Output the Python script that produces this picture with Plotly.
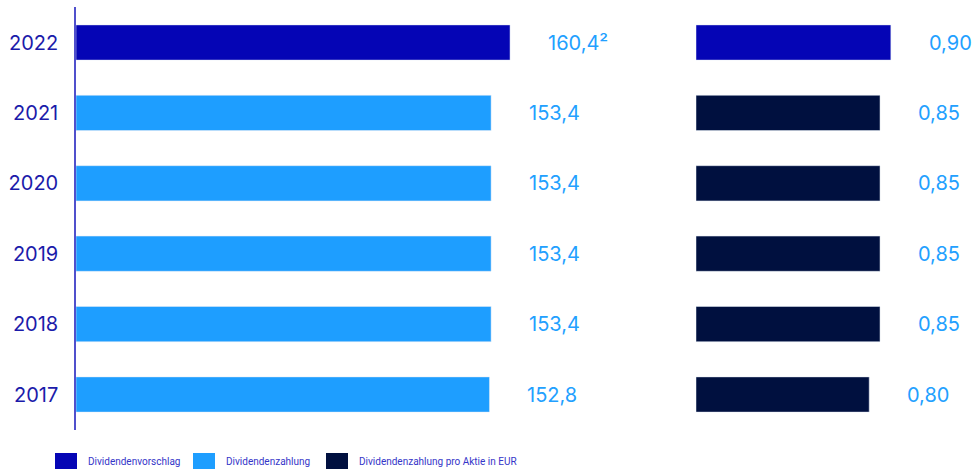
import plotly.graph_objects as go

# Dividend data (total payout in EUR million, payout per share in EUR)
years_paid = ["2017", "2018", "2019", "2020", "2021"]
payout_total = [152.8, 153.4, 153.4, 153.4, 153.4]
payout_share = [0.80, 0.85, 0.85, 0.85, 0.85]

year_proposed = ["2022"]
proposed_total = [160.4]
proposed_share = [0.90]

legend_labels = ["Dividendenvorschlag", "Dividendenzahlung", "Dividendenzahlung pro Aktie in EUR"]

C_PROPOSED = "#0505B5"
C_PAID = "#1E9EFF"
C_SHARE = "#00103F"
C_LABEL = "#22A0FF"
C_AXIS = "#1B1BAA"
C_LEGEND = "#3535C8"

W, H = 975, 469
FONT = "Inter"

cats = years_paid + year_proposed


def px_x(p):
    return p / W


def px_y(p):
    return 1 - p / H


def de(v, digits):
    return f"{v:.{digits}f}".replace(".", ",")


fig = go.Figure()

# left panel: total payout
fig.add_bar(y=years_paid, x=payout_total, orientation="h", marker_color=C_PAID,
            width=0.5, xaxis="x", yaxis="y", showlegend=False, hoverinfo="skip")
fig.add_bar(y=year_proposed, x=proposed_total, orientation="h", marker_color=C_PROPOSED,
            width=0.5, xaxis="x", yaxis="y", showlegend=False, hoverinfo="skip")
# right panel: per share
fig.add_bar(y=years_paid, x=payout_share, orientation="h", marker_color=C_SHARE,
            width=0.5, xaxis="x2", yaxis="y2", showlegend=False, hoverinfo="skip")
fig.add_bar(y=year_proposed, x=proposed_share, orientation="h", marker_color=C_PROPOSED,
            width=0.5, xaxis="x2", yaxis="y2", showlegend=False, hoverinfo="skip")

# value labels, placed by category index on the y axes
annotations = []
for y, v in zip(years_paid, payout_total):
    annotations.append(dict(x=v, y=cats.index(y), xref="x", yref="y", text=de(v, 1)))
for y, v in zip(year_proposed, proposed_total):
    annotations.append(dict(x=v, y=cats.index(y), xref="x", yref="y",
                            text=de(v, 1) + "\u00b2"))
for y, v in zip(years_paid, payout_share):
    annotations.append(dict(x=v, y=cats.index(y), xref="x2", yref="y2", text=de(v, 2)))
for y, v in zip(year_proposed, proposed_share):
    annotations.append(dict(x=v, y=cats.index(y), xref="x2", yref="y2", text=de(v, 2)))
for a in annotations:
    a.update(xanchor="left", yanchor="middle", xshift=36, showarrow=False,
             font=dict(family=FONT, size=20, color=C_LABEL))

# legend drawn as swatches with captions
shapes = []
legend_x = [55, 193, 326]
legend_colors = [C_PROPOSED, C_PAID, C_SHARE]
for lx, col, lab in zip(legend_x, legend_colors, legend_labels):
    shapes.append(dict(type="rect", xref="paper", yref="paper",
                       x0=px_x(lx), x1=px_x(lx + 22), y0=px_y(470), y1=px_y(453),
                       fillcolor=col, line_width=0, layer="above"))
    annotations.append(dict(x=px_x(lx + 31), y=px_y(461.5), xref="paper", yref="paper",
                            text=lab, showarrow=False, xanchor="left", yanchor="middle",
                            font=dict(family="Roboto", size=10, color=C_LEGEND)))

y_dom = [px_y(429.7), px_y(7.3)]

fig.update_layout(
    width=W, height=H,
    margin=dict(l=0, r=0, t=0, b=0),
    paper_bgcolor="white", plot_bgcolor="white",
    barmode="overlay",
    showlegend=False,
    xaxis=dict(domain=[px_x(76), px_x(660)], range=[0, 584 / 2.706],
               visible=False, fixedrange=True),
    xaxis2=dict(domain=[px_x(696), 1], range=[0, 279 / 216.5],
                visible=False, fixedrange=True),
    yaxis=dict(domain=y_dom, type="category", categoryorder="array", categoryarray=cats,
               range=[-0.5, 5.5], showline=True, linecolor="#5050CC", linewidth=1.5,
               showgrid=False, zeroline=False, ticks="", ticklabelstandoff=12,
               tickfont=dict(family=FONT, size=20, color=C_AXIS), fixedrange=True),
    yaxis2=dict(domain=y_dom, type="category", categoryorder="array", categoryarray=cats,
                range=[-0.5, 5.5], anchor="x2", visible=False, fixedrange=True),
    annotations=annotations,
    shapes=shapes,
)

fig.write_html("out.html")
